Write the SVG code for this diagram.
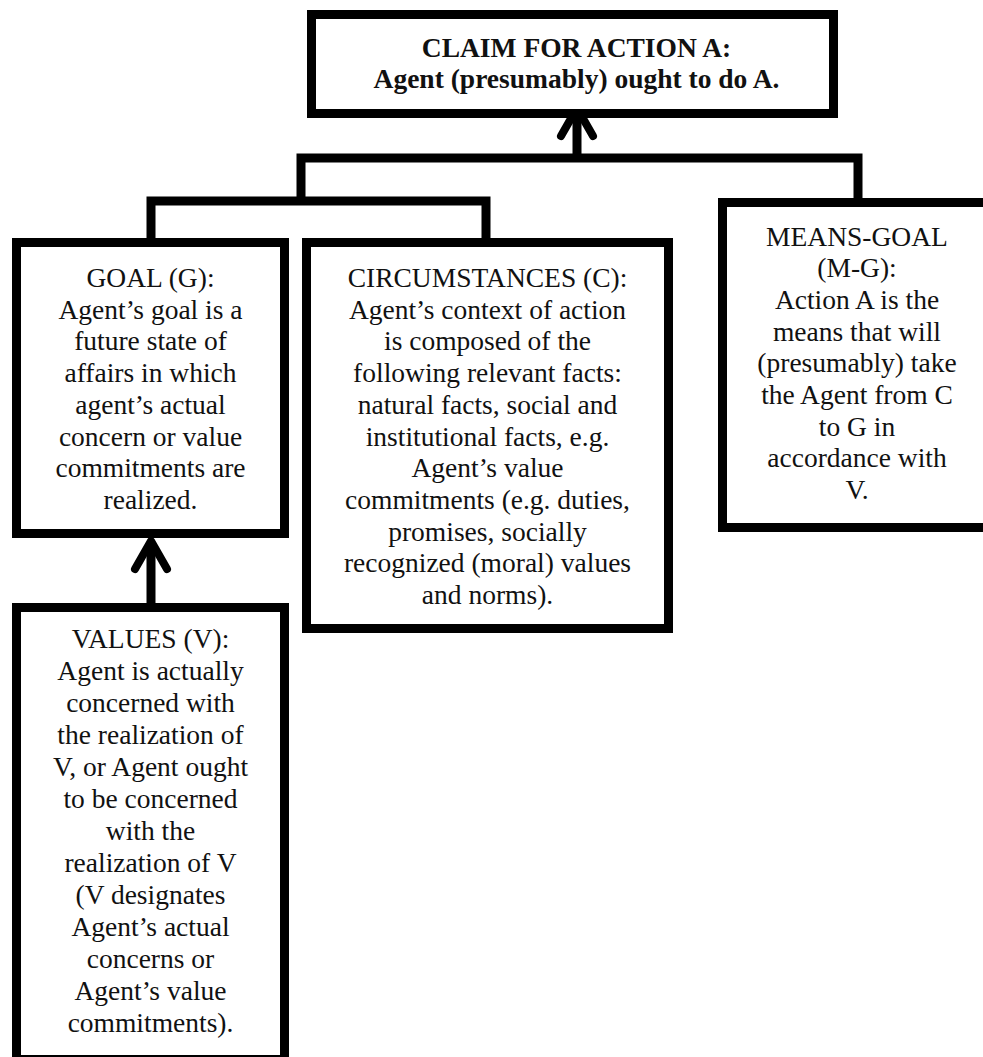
<svg xmlns="http://www.w3.org/2000/svg" width="983" height="1057" viewBox="0 0 983 1057">
<style>
.box{fill:#fff;stroke:#000;stroke-width:9;stroke-linejoin:miter}
.wire{fill:none;stroke:#000;stroke-width:9;stroke-linejoin:miter;stroke-linecap:butt}
.head{fill:none;stroke:#000;stroke-width:8;stroke-linejoin:round;stroke-linecap:round}
.t{font-family:'Liberation Serif','Times New Roman',serif;font-size:27.5px;fill:#111;text-anchor:middle}
.bold{font-weight:bold}
</style>
<rect width="983" height="1057" fill="#fff"/>
<g id="connectors">
<path class="wire" d="M301,205 V158 H858 V203"/>
<path class="wire" d="M151,243 V201 H486 V243"/>
<path class="wire" d="M577,160 V110"/>
<path class="head" d="M561,136 L577,108 L593,136"/>
<path class="wire" d="M151,604 V543"/>
<path class="head" d="M135,569 L151,541 L167,569"/>
</g>
<g id="claim">
<rect class="box" x="311.5" y="14.5" width="522" height="99"/>
<text class="t bold" x="576.5" y="57"><tspan x="576.5">CLAIM FOR ACTION A:</tspan><tspan x="576.5" dy="31">Agent (presumably) ought to do A.</tspan></text>
</g>
<g id="goal">
<rect class="box" x="16.5" y="242.5" width="268" height="291"/>
<text class="t" x="150.5" y="287"><tspan x="150.5">GOAL (G):</tspan><tspan x="150.5" dy="31.7">Agent’s goal is a</tspan><tspan x="150.5" dy="31.7">future state of</tspan><tspan x="150.5" dy="31.7">affairs in which</tspan><tspan x="150.5" dy="31.7">agent’s actual</tspan><tspan x="150.5" dy="31.7">concern or value</tspan><tspan x="150.5" dy="31.7">commitments are</tspan><tspan x="150.5" dy="31.7">realized.</tspan></text>
</g>
<g id="circumstances">
<rect class="box" x="306.5" y="242.5" width="362" height="386"/>
<text class="t" x="487.5" y="287"><tspan x="487.5">CIRCUMSTANCES (C):</tspan><tspan x="487.5" dy="31.7">Agent’s context of action</tspan><tspan x="487.5" dy="31.7">is composed of the</tspan><tspan x="487.5" dy="31.7">following relevant facts:</tspan><tspan x="487.5" dy="31.7">natural facts, social and</tspan><tspan x="487.5" dy="31.7">institutional facts, e.g.</tspan><tspan x="487.5" dy="31.7">Agent’s value</tspan><tspan x="487.5" dy="31.7">commitments (e.g. duties,</tspan><tspan x="487.5" dy="31.7">promises, socially</tspan><tspan x="487.5" dy="31.7">recognized (moral) values</tspan><tspan x="487.5" dy="31.7">and norms).</tspan></text>
</g>
<g id="means-goal">
<rect class="box" x="722.5" y="202.5" width="280" height="325"/>
<text class="t" x="857" y="245.5"><tspan x="857">MEANS-GOAL</tspan><tspan x="857" dy="31.7">(M-G):</tspan><tspan x="857" dy="31.7">Action A is the</tspan><tspan x="857" dy="31.7">means that will</tspan><tspan x="857" dy="31.7">(presumably) take</tspan><tspan x="857" dy="31.7">the Agent from C</tspan><tspan x="857" dy="31.7">to G in</tspan><tspan x="857" dy="31.7">accordance with</tspan><tspan x="857" dy="31.7">V.</tspan></text>
</g>
<g id="values">
<rect class="box" x="16.5" y="607.5" width="268" height="452"/>
<text class="t" x="150.5" y="648"><tspan x="150.5">VALUES (V):</tspan><tspan x="150.5" dy="32">Agent is actually</tspan><tspan x="150.5" dy="32">concerned with</tspan><tspan x="150.5" dy="32">the realization of</tspan><tspan x="150.5" dy="32">V, or Agent ought</tspan><tspan x="150.5" dy="32">to be concerned</tspan><tspan x="150.5" dy="32">with the</tspan><tspan x="150.5" dy="32">realization of V</tspan><tspan x="150.5" dy="32">(V designates</tspan><tspan x="150.5" dy="32">Agent’s actual</tspan><tspan x="150.5" dy="32">concerns or</tspan><tspan x="150.5" dy="32">Agent’s value</tspan><tspan x="150.5" dy="32">commitments).</tspan></text>
</g>
</svg>
